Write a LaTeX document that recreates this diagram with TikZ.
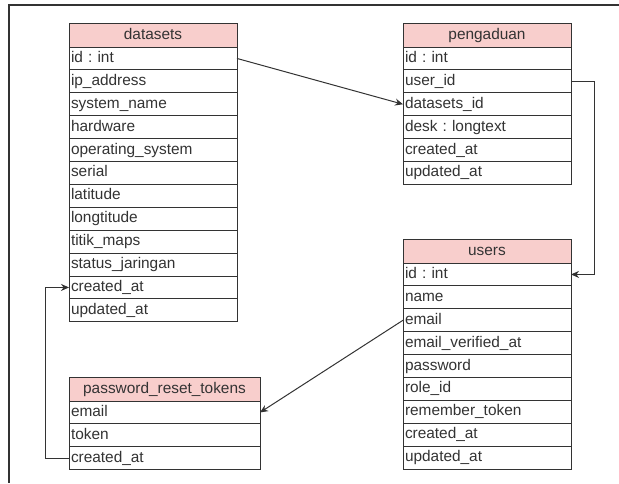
\documentclass[tikz,border=0pt]{standalone}
\usepackage{fontspec}
\setmainfont{Liberation Sans}
\usepackage{tikz}
\usetikzlibrary{positioning,arrows.meta}

\definecolor{hdrpink}{HTML}{F8CECC}
\definecolor{edgegray}{HTML}{333333}

\tikzset{
  tblhead/.style={rectangle, draw=edgegray, line width=0.9pt, fill=hdrpink,
                  outer sep=0pt, minimum height=24pt, text=edgegray,
                  text height=11.5pt, text depth=3.5pt,
                  font=\fontsize{15.4}{18}\selectfont\frenchspacing},
  tblrow/.style={rectangle, draw=edgegray, line width=0.9pt, fill=white,
                 outer sep=0pt, minimum height=22.9pt, inner xsep=2pt,
                 inner ysep=0pt, text height=11.5pt, text depth=3.5pt,
                 align=left, text=edgegray,
                 font=\fontsize{15.4}{18}\selectfont\frenchspacing},
  relarrow/.style={draw=edgegray, line width=1pt, -{Stealth[length=8pt,width=7pt]}}
}

\begin{document}
\begin{tikzpicture}[x=1pt,y=1pt]
\def\tw{164pt}
\def\tww{187pt}

\useasboundingbox (0,0) rectangle (619,-483);

% frame
\draw[edgegray, line width=1.2pt] (619,-5) -- (9,-5) -- (9,-483);

% datasets
\node[tblhead, minimum width=168pt] (ds-h) at (153,-35) {datasets};
\node[tblrow, text width=\tw, below=0pt of ds-h] (ds-id) {id : int};
\node[tblrow, text width=\tw, below=0pt of ds-id] (ds-ip) {ip\_address};
\node[tblrow, text width=\tw, below=0pt of ds-ip] (ds-sys) {system\_name};
\node[tblrow, text width=\tw, below=0pt of ds-sys] (ds-hw) {hardware};
\node[tblrow, text width=\tw, below=0pt of ds-hw] (ds-os) {operating\_system};
\node[tblrow, text width=\tw, below=0pt of ds-os] (ds-ser) {serial};
\node[tblrow, text width=\tw, below=0pt of ds-ser] (ds-lat) {latitude};
\node[tblrow, text width=\tw, below=0pt of ds-lat] (ds-lon) {longtitude};
\node[tblrow, text width=\tw, below=0pt of ds-lon] (ds-map) {titik\_maps};
\node[tblrow, text width=\tw, below=0pt of ds-map] (ds-stat) {status\_jaringan};
\node[tblrow, text width=\tw, below=0pt of ds-stat] (ds-cr) {created\_at};
\node[tblrow, text width=\tw, below=0pt of ds-cr] (ds-up) {updated\_at};

% pengaduan
\node[tblhead, minimum width=168pt] (pg-h) at (487,-35) {pengaduan};
\node[tblrow, text width=\tw, below=0pt of pg-h] (pg-id) {id : int};
\node[tblrow, text width=\tw, below=0pt of pg-id] (pg-uid) {user\_id};
\node[tblrow, text width=\tw, below=0pt of pg-uid] (pg-dsid) {datasets\_id};
\node[tblrow, text width=\tw, below=0pt of pg-dsid] (pg-desk) {desk : longtext};
\node[tblrow, text width=\tw, below=0pt of pg-desk] (pg-cr) {created\_at};
\node[tblrow, text width=\tw, below=0pt of pg-cr] (pg-up) {updated\_at};

% users
\node[tblhead, minimum width=168pt] (us-h) at (487,-251) {users};
\node[tblrow, text width=\tw, below=0pt of us-h] (us-id) {id : int};
\node[tblrow, text width=\tw, below=0pt of us-id] (us-name) {name};
\node[tblrow, text width=\tw, below=0pt of us-name] (us-mail) {email};
\node[tblrow, text width=\tw, below=0pt of us-mail] (us-ver) {email\_verified\_at};
\node[tblrow, text width=\tw, below=0pt of us-ver] (us-pw) {password};
\node[tblrow, text width=\tw, below=0pt of us-pw] (us-role) {role\_id};
\node[tblrow, text width=\tw, below=0pt of us-role] (us-rem) {remember\_token};
\node[tblrow, text width=\tw, below=0pt of us-rem] (us-cr) {created\_at};
\node[tblrow, text width=\tw, below=0pt of us-cr] (us-up) {updated\_at};

% password_reset_tokens
\node[tblhead, minimum width=191pt] (prt-h) at (164.5,-389) {password\_reset\_tokens};
\node[tblrow, text width=\tww, below=0pt of prt-h] (prt-mail) {email};
\node[tblrow, text width=\tww, below=0pt of prt-mail] (prt-tok) {token};
\node[tblrow, text width=\tww, below=0pt of prt-tok] (prt-cr) {created\_at};

% relations
\draw[relarrow] (ds-id.east) -- (pg-dsid.west);
\draw[relarrow] (pg-uid.east) -- ++(23,0) |- (us-id.east);
\draw[relarrow] (us-mail.west) -- (prt-mail.east);
\draw[relarrow] (prt-cr.west) -- ++(-24,0) |- (ds-cr.west);
\end{tikzpicture}
\end{document}
